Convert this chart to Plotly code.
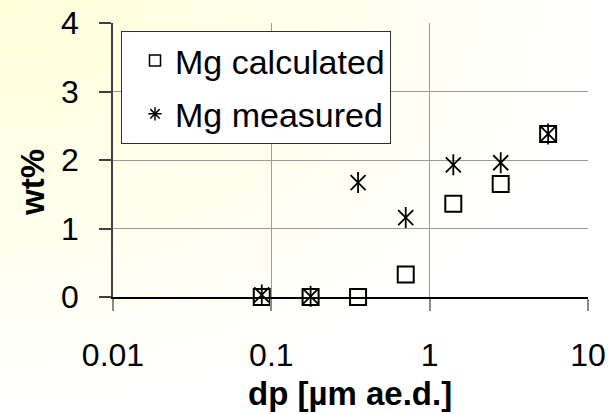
import base64
import plotly.graph_objects as go

# ---- data ----
dp = [0.087, 0.177, 0.353, 0.706, 1.41, 2.81, 5.6]
mg_calculated = [0.0, 0.0, 0.0, 0.33, 1.36, 1.65, 2.38]
mg_measured = [0.03, 0.01, 1.67, 1.16, 1.93, 1.96, 2.38]
x_tickvals = [0.01, 0.1, 1, 10]
x_ticktext = ["0.01", "0.1", "1", "10"]
y_tickvals = [0, 1, 2, 3, 4]
series_names = ["Mg calculated", "Mg measured"]
x_title = "dp [µm ae.d.]"
y_title = "wt%"

W, H = 610, 414
L, R, T, B = 113, 588, 23, 297  # plot area in px
FONT = "Liberation Sans, Arial, sans-serif"

# background: radial gradient from the top-left corner (cream) to white
svg = (
    '<svg xmlns="http://www.w3.org/2000/svg" width="610" height="414" preserveAspectRatio="none">'
    '<defs><radialGradient id="g" cx="0" cy="0" r="1" gradientUnits="objectBoundingBox">'
    '<stop offset="0" stop-color="#FFFFD9"/>'
    '<stop offset="0.5" stop-color="#FFFFEC"/>'
    '<stop offset="1" stop-color="#FFFFFF"/>'
    '</radialGradient></defs>'
    '<rect x="0" y="0" width="610" height="414" fill="url(#g)"/></svg>'
)
bg_src = "data:image/svg+xml;base64," + base64.b64encode(svg.encode()).decode()

fig = go.Figure()

# data traces
fig.add_trace(go.Scatter(
    x=dp, y=mg_calculated, mode="markers",
    marker=dict(symbol="square-open", size=16, color="black", line=dict(width=2, color="black")),
    showlegend=False, cliponaxis=False))
fig.add_trace(go.Scatter(
    x=dp, y=mg_measured, mode="markers",
    marker=dict(symbol="x-thin-open", size=15, color="black", line=dict(width=1.8, color="black")),
    showlegend=False, cliponaxis=False))
fig.add_trace(go.Scatter(
    x=dp, y=mg_measured, mode="markers",
    marker=dict(symbol="line-ns-open", size=15, color="black", line=dict(width=1.8, color="black")),
    showlegend=False, cliponaxis=False))

# legend entries
fig.add_trace(go.Scatter(
    x=[None], y=[None], mode="markers", name=series_names[0], legendgroup="a",
    marker=dict(symbol="square-open", size=11, color="black", line=dict(width=1.5, color="black"))))
fig.add_trace(go.Scatter(
    x=[None], y=[None], mode="markers", name=series_names[1], legendgroup="b",
    marker=dict(symbol="asterisk-open", size=11, color="black", line=dict(width=1.5, color="black"))))

fig.update_layout(
    width=W, height=H,
    margin=dict(l=0, r=0, t=0, b=0, autoexpand=False),
    paper_bgcolor="white", plot_bgcolor="rgba(0,0,0,0)",
    font=dict(family=FONT, color="black"),
    images=[dict(source=bg_src, xref="paper", yref="paper", x=0, y=1, sizex=1, sizey=1,
                 xanchor="left", yanchor="top", sizing="stretch", layer="below")],
    xaxis=dict(
        domain=[L / W, R / W], type="log", range=[-2, 1],
        tickvals=x_tickvals, ticktext=x_ticktext, automargin=False,
        showgrid=True, gridcolor="#9A9A9A", gridwidth=1,
        showline=True, linecolor="black", linewidth=1.5,
        ticks="outside", ticklen=12, tickwidth=1.5, tickcolor="#8A8A8A",
        tickfont=dict(size=32, family=FONT), ticklabelstandoff=17,
        zeroline=False),
    yaxis=dict(
        domain=[(H - B) / H, (H - T) / H], range=[0, 4],
        tickvals=y_tickvals, automargin=False,
        showgrid=True, gridcolor="#9A9A9A", gridwidth=1,
        showline=True, linecolor="#404040", linewidth=1.5,
        ticks="outside", ticklen=12, tickwidth=1.5, tickcolor="#404040",
        tickfont=dict(size=32, family=FONT), ticklabelstandoff=14,
        zeroline=False),
    legend=dict(
        x=121 / W, y=1 - 31 / H, xanchor="left", yanchor="top",
        bgcolor="white", bordercolor="#303030", borderwidth=1,
        font=dict(size=34, family=FONT), indentation=13,
        traceorder="grouped", tracegroupgap=6),
    annotations=[
        dict(text="<b>" + x_title + "</b>", xref="paper", yref="paper",
             x=350 / W, y=1 - 393 / H, showarrow=False,
             font=dict(size=33, family=FONT), xanchor="center", yanchor="middle"),
        dict(text="<b>" + y_title + "</b>", xref="paper", yref="paper",
             x=33 / W, y=1 - 183 / H, showarrow=False, textangle=-90,
             font=dict(size=33, family=FONT), xanchor="center", yanchor="middle"),
    ],
)

fig.write_html("out.html")
